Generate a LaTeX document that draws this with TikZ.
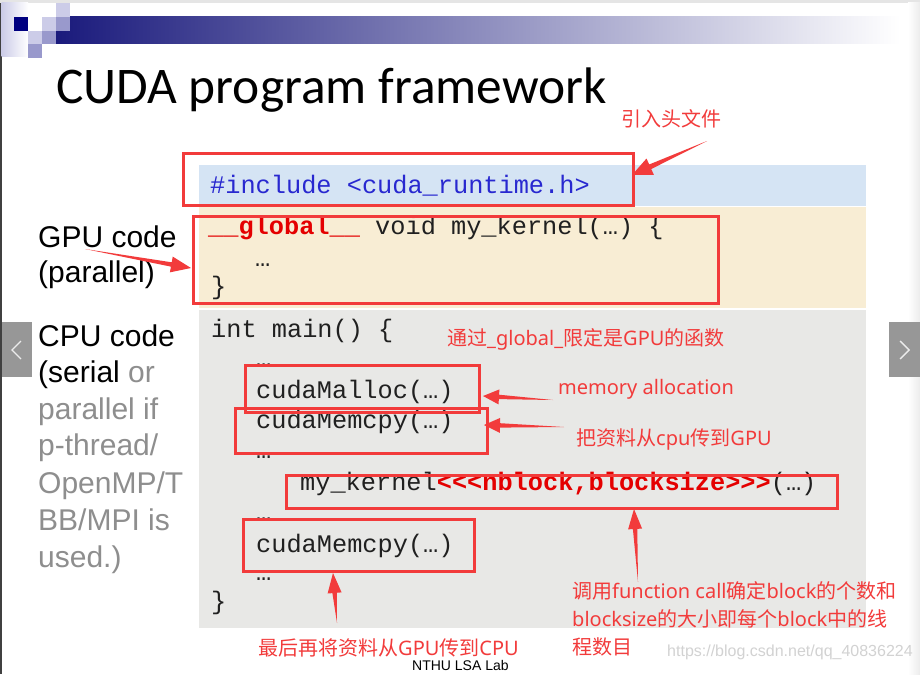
\documentclass[tikz,border=0pt]{standalone}
\usepackage{fontspec}
\usetikzlibrary{calc}
\newfontfamily\titleF{Carlito}
\newfontfamily\monoF{Liberation Mono}
\newfontfamily\sansF{Liberation Sans}
\newfontfamily\latF{Noto Sans}
\newfontfamily\cjkF{Noto Sans CJK SC}
\newcommand\zh[1]{{\cjkF #1}}
\definecolor{annot}{HTML}{F23B3B}
\definecolor{kred}{HTML}{E40000}
\definecolor{incblue}{HTML}{2828D0}
\definecolor{codeblack}{HTML}{202020}
\definecolor{lblgray}{HTML}{8E8E8E}
\definecolor{bgblue}{HTML}{D5E4F4}
\definecolor{bgbeige}{HTML}{F8EDD4}
\definecolor{bggray}{HTML}{E8E8E6}
\definecolor{navyA}{HTML}{000080}
\definecolor{barnavy}{HTML}{1A1A7C}
\definecolor{lavL}{HTML}{CCCCE8}
\definecolor{lavM}{HTML}{9999CC}
\definecolor{navbtn}{HTML}{979797}
\newcommand\redarrow[5]{%
  \coordinate (ArB) at ($(#2)!#3pt!(#1)$);
  \fill[annot] (#1) -- ($(ArB)!#5pt!90:(#2)$) -- ($(ArB)!#4pt!90:(#2)$) -- (#2)
    -- ($(ArB)!#4pt!-90:(#2)$) -- ($(ArB)!#5pt!-90:(#2)$) -- cycle;}
\tikzset{
  code/.style={font=\monoF\fontsize{25.3pt}{30pt}\selectfont, anchor=base west, inner sep=0pt, text=codeblack},
  redbox/.style={draw=annot, line width=3pt, anchor=north west, inner sep=0pt},
  lbl/.style={font=\sansF\fontsize{30pt}{36pt}\selectfont, anchor=base west, inner sep=0pt},
  ann/.style={font=\latF\fontsize{20pt}{24pt}\selectfont, text=annot, anchor=base west, inner sep=0pt},
  navchev/.style={draw=white!85!gray, line width=1.4pt}
}
\begin{document}
\begin{tikzpicture}[x=1pt,y=-1pt]
\useasboundingbox (0,0) rectangle (920,674);
\fill[white] (0,0) rectangle (920,674);
% frame bits
\fill[gray!20] (0,0) rectangle (920,3);
\shade[left color=white, right color=gray!15] (908,3) rectangle (920,674);
\fill[black!75] (0,3) rectangle (1.5,674);
% title bar decoration
\shade[left color=lavL, right color=white] (1.5,3) rectangle (28,57);
\shade[left color=barnavy, right color=white] (56,17) rectangle (900,44);
\fill[white] (56,17) rectangle (70,31);
\fill[lavL] (56,3) rectangle (70,17);
\fill[navyA] (14,17) rectangle (28,31);
\fill[lavL] (42,17) rectangle (56,31);
\fill[lavM] (56,17) rectangle (70,31);
\fill[lavL] (28,31) rectangle (42,44);
\fill[lavM] (42,31) rectangle (56,44);
\fill[lavM] (28,44) rectangle (42,58);
% title
\node[font=\titleF\fontsize{51.4pt}{60pt}\selectfont, anchor=base west, inner sep=0pt] (title) at (56,103) {CUDA program framework};
% code backgrounds
\fill[bgblue] (199,165) rectangle (866,206);
\fill[bgbeige] (199,207) rectangle (866,308);
\fill[bggray] (199,310) rectangle (866,628);
% nav buttons
\fill[navbtn] (1.5,322) rectangle (32,377);
\draw[navchev] (21,341) -- (12,350) -- (21,359);
\fill[navbtn] (889,322) rectangle (920,377);
\draw[navchev] (900,341) -- (909,350) -- (900,359);
% left labels
\node[lbl] (gpuA) at (38,247) {GPU code};
\node[lbl] (gpuB) at (38,282) {(parallel)};
\node[lbl] (cpuA) at (38,346) {CPU code};
\node[lbl] (cpuB) at (38,382) {(serial \textcolor{lblgray}{or}};
\node[lbl, text=lblgray] (cpuC) at (38,419) {parallel if};
\node[lbl, text=lblgray] (cpuD) at (38,455) {p-thread/};
\node[lbl, text=lblgray] (cpuE) at (38,493) {OpenMP/T};
\node[lbl, text=lblgray] (cpuF) at (38,530) {BB/MPI is};
\node[lbl, text=lblgray] (cpuG) at (38,567) {used.)};
% code
\node[code, text=incblue] (inc) at (210,193) {\#include <cuda\_runtime.h>};
\node[code] (glob) at (208,234) {\textcolor{kred}{\bfseries \_\_global\_\_} void my\_kernel(…) \{};
\node[code] (gdots) at (255,266) {…};
\node[code] (gend) at (211,294) {\}};
\node[code] (mainl) at (211,337) {int main() \{};
\node[code] (d1) at (256,366) {…};
\node[code] (malloc) at (256,398) {cudaMalloc(…)};
\node[code] (memcpyA) at (256,428) {cudaMemcpy(…)};
\node[code] (d2) at (256,458) {…};
\node[code] (kern) at (300,490) {my\_kernel\textcolor{kred}{\bfseries <{}<{}<nblock,blocksize>{}>{}>}(…)};
\node[code] (d3) at (256,520) {…};
\node[code] (memcpyB) at (256,552) {cudaMemcpy(…)};
\node[code] (d4) at (256,580) {…};
\node[code] (mend) at (211,609) {\}};
% red boxes
\node[redbox, minimum width=450pt, minimum height=52pt] (incbox) at (182,152) {};
\node[redbox, minimum width=525pt, minimum height=87pt] (gpubox) at (192,215) {};
\node[redbox, minimum width=234pt, minimum height=47pt] (mallocbox) at (244,364) {};
\node[redbox, minimum width=252pt, minimum height=45pt] (memcpyAbox) at (234,407) {};
\node[redbox, minimum width=551pt, minimum height=33pt] (kernbox) at (285,474) {};
\node[redbox, minimum width=231pt, minimum height=52pt] (memcpyBbox) at (242,518) {};
% annotations
\node[ann] (annInc) at (621,126) {\zh{引入头文件}};
\node[ann] (annGlob) at (447,345) {\zh{通过}\_global\_\zh{限定是}GPU\zh{的函数}};
\node[ann] (annMem) at (558,394) {memory allocation};
\node[ann] (annCpy) at (576,445) {\zh{把资料从}cpu\zh{传到}GPU};
\node[ann] (annCallA) at (572,598) {\zh{调用}function call\zh{确定}block\zh{的个数和}};
\node[ann] (annCallB) at (572,626) {blocksize\zh{的大小即每个}block\zh{中的线}};
\node[ann] (annCallC) at (572,654) {\zh{程数目}};
\node[ann] (annBack) at (258,655) {\zh{最后再将资料从}GPU\zh{传到}CPU};
\node[font=\sansF\fontsize{14pt}{17pt}\selectfont, anchor=base west, inner sep=0pt] (lab) at (412,670) {NTHU LSA Lab};
\node[font=\sansF\fontsize{16pt}{19pt}\selectfont, text=gray!35, anchor=base west, inner sep=0pt] (wm) at (667,656) {https://blog.csdn.net/qq\_40836224};
% arrows
\coordinate (tInc) at (707,141);  \coordinate (hInc) at (632,175);
\coordinate (tGpu) at (85,249);   \coordinate (hGpu) at (191,268);
\coordinate (tMem) at (553,400);  \coordinate (hMem) at (483,396);
\coordinate (tCpy) at (564,427);  \coordinate (hCpy) at (484,425);
\coordinate (tKer) at (638,582);  \coordinate (hKer) at (634,509);
\coordinate (tBack) at (337,623); \coordinate (hBack) at (333,573);
\redarrow{tInc}{hInc}{20}{9}{2.5}
\redarrow{tGpu}{hGpu}{20}{8}{2.2}
\redarrow{tMem}{hMem}{16}{7.5}{2.2}
\redarrow{tCpy}{hCpy}{16}{7.5}{2.2}
\redarrow{tKer}{hKer}{20}{7}{2.2}
\redarrow{tBack}{hBack}{20}{7}{2.2}
\end{tikzpicture}
\end{document}
